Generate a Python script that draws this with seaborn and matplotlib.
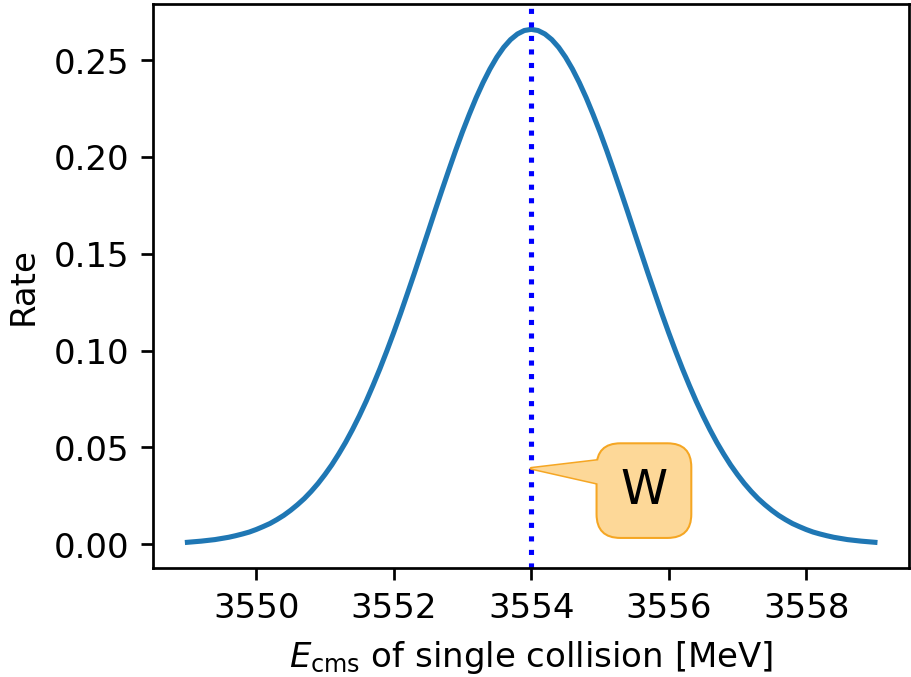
import numpy as np
import pandas as pd
import matplotlib
matplotlib.use("Agg")
import matplotlib.pyplot as plt
import seaborn as sns

# Collision energy (MeV) and rate
energy = [3549.0, 3549.1, 3549.2, 3549.3, 3549.4, 3549.5, 3549.6, 3549.7, 3549.8, 3549.9,
          3550.0, 3550.1, 3550.2, 3550.3, 3550.4, 3550.5, 3550.6, 3550.7, 3550.8, 3550.9,
          3551.0, 3551.1, 3551.2, 3551.3, 3551.4, 3551.5, 3551.6, 3551.7, 3551.8, 3551.9,
          3552.0, 3552.1, 3552.2, 3552.3, 3552.4, 3552.5, 3552.6, 3552.7, 3552.8, 3552.9,
          3553.0, 3553.1, 3553.2, 3553.3, 3553.4, 3553.5, 3553.6, 3553.7, 3553.8, 3553.9,
          3554.0, 3554.1, 3554.2, 3554.3, 3554.4, 3554.5, 3554.6, 3554.7, 3554.8, 3554.9,
          3555.0, 3555.1, 3555.2, 3555.3, 3555.4, 3555.5, 3555.6, 3555.7, 3555.8, 3555.9,
          3556.0, 3556.1, 3556.2, 3556.3, 3556.4, 3556.5, 3556.6, 3556.7, 3556.8, 3556.9,
          3557.0, 3557.1, 3557.2, 3557.3, 3557.4, 3557.5, 3557.6, 3557.7, 3557.8, 3557.9,
          3558.0, 3558.1, 3558.2, 3558.3, 3558.4, 3558.5, 3558.6, 3558.7, 3558.8, 3558.9,
          3559.0]
rate = [0.0010, 0.0013, 0.0016, 0.0020, 0.0024, 0.0030, 0.0036, 0.0044, 0.0053, 0.0063,
        0.0076, 0.0091, 0.0107, 0.0127, 0.0149, 0.0175, 0.0204, 0.0236, 0.0273, 0.0314,
        0.0360, 0.0410, 0.0466, 0.0526, 0.0592, 0.0663, 0.0739, 0.0821, 0.0907, 0.0998,
        0.1093, 0.1192, 0.1295, 0.1399, 0.1506, 0.1613, 0.1721, 0.1827, 0.1931, 0.2033,
        0.2130, 0.2221, 0.2307, 0.2385, 0.2455, 0.2516, 0.2567, 0.2607, 0.2636, 0.2654,
        0.2660, 0.2654, 0.2636, 0.2607, 0.2567, 0.2516, 0.2455, 0.2385, 0.2307, 0.2221,
        0.2130, 0.2033, 0.1931, 0.1827, 0.1721, 0.1613, 0.1506, 0.1399, 0.1295, 0.1192,
        0.1093, 0.0998, 0.0907, 0.0821, 0.0739, 0.0663, 0.0592, 0.0526, 0.0466, 0.0410,
        0.0360, 0.0314, 0.0273, 0.0236, 0.0204, 0.0175, 0.0149, 0.0127, 0.0107, 0.0091,
        0.0076, 0.0063, 0.0053, 0.0044, 0.0036, 0.0030, 0.0024, 0.0020, 0.0016, 0.0013,
        0.0010]

# nominal collision energy and the callout
e_nominal = 3554.0
label_text = "W"
label_point = (3554.0, 0.0392)
label_pos = (3555.64, 0.0277)
wedge_tail = (3555.08, 0.0372)

df = pd.DataFrame({"energy": energy, "rate": rate})

box_fc = "#fdd898"
box_ec = "#f5a623"

dpi = 245
fig = plt.figure(figsize=(911.3 / dpi, 677.3 / dpi), dpi=dpi)
ax = fig.add_axes([153 / 911, 109 / 677, 756 / 911, 564 / 677])

sns.lineplot(data=df, x="energy", y="rate", ax=ax, color="#1f77b4", linewidth=1.5)
ax.axvline(e_nominal, color="blue", linestyle=":", linewidth=1.5)

# wedge with orange outline, under the box
wedge = dict(arrowstyle="wedge,tail_width=0.75", shrinkA=0, shrinkB=0, patchA=None)
ax.annotate("", xy=label_point, xytext=wedge_tail, zorder=4,
            arrowprops=dict(fc=box_fc, ec=box_ec, lw=0.9, **wedge))
# the rounded box
ax.text(*label_pos, label_text, fontsize=14, ha="center", va="center", zorder=5,
        color="none",
        bbox=dict(boxstyle="round,pad=0.5", fc=box_fc, ec=box_ec, lw=0.6))
# fill-only wedge on top so the box edge does not cut across the wedge base
ax.annotate("", xy=label_point, xytext=wedge_tail, zorder=6,
            arrowprops=dict(fc=box_fc, ec="none", lw=0, **wedge))
ax.text(*label_pos, label_text, fontsize=14, ha="center", va="center", zorder=7)

ax.set_xticks([3550, 3552, 3554, 3556, 3558])
ax.set_xlabel(r"$E_{\rm cms}$ of single collision [MeV]")
ax.set_ylabel("Rate")

fig.savefig("out.png", dpi=dpi)
